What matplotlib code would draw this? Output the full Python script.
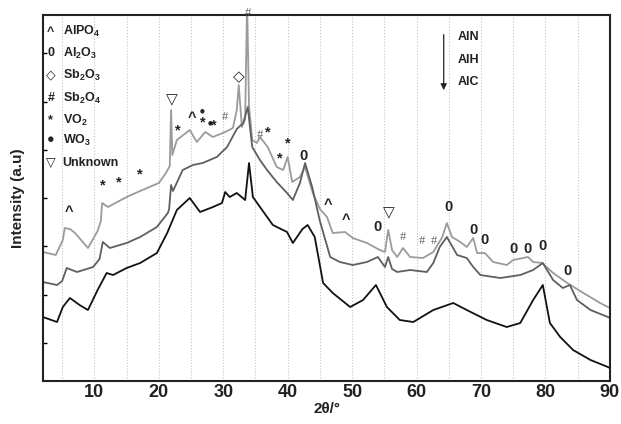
import numpy as np
import matplotlib
matplotlib.use('Agg')
import matplotlib.pyplot as plt

plt.rcParams['font.family'] = ['Liberation Sans', 'DejaVu Sans']
plt.rcParams['mathtext.fontset'] = 'custom'
plt.rcParams['mathtext.rm'] = 'Liberation Sans'
plt.rcParams['mathtext.bf'] = 'Liberation Sans:bold'

# 2theta (deg) and intensity (a.u., offset stacked)
aln_tt = [2.0, 4.0, 5.1, 5.4, 6.2, 7.0, 9.0, 10.5, 11.0, 11.2, 12.1, 15.0, 17.1, 20.0,
          21.1, 21.7, 21.9, 22.1, 22.8, 24.8, 25.9, 27.2, 28.4, 30.3, 31.5, 32.1, 32.4,
          32.9, 33.4, 33.7, 34.0, 34.5, 35.2, 35.7, 36.9, 38.3, 39.3, 40.0, 40.7, 41.9,
          42.7, 43.9, 45.0, 46.1, 47.0, 48.9, 50.1, 52.3, 54.3, 55.1, 55.6, 56.2, 57.0,
          57.9, 59.0, 61.0, 62.6, 64.0, 64.7, 65.5, 66.8, 67.8, 68.8, 69.4, 70.6, 71.9,
          74.0, 75.0, 77.3, 78.1, 79.5, 81.2, 83.4, 85.9, 88.5, 89.7, 90.0]
aln_int = [129, 126, 141, 153, 152, 148, 133, 150, 160, 178, 174, 184, 190, 198,
           208, 215, 271, 226, 241, 251, 239, 249, 244, 249, 253, 271, 296,
           254, 262, 380, 275, 241, 238, 244, 234, 214, 211, 224, 199, 204,
           214, 188, 172, 164, 148, 149, 143, 138, 131, 129, 151, 131, 124,
           133, 124, 123, 129, 144, 158, 144, 139, 134, 143, 128, 128, 119,
           116, 121, 124, 119, 118, 108, 98, 88, 78, 74, 73]

alh_tt = [2.0, 4.2, 5.0, 5.7, 7.3, 9.8, 10.8, 11.3, 12.4, 15.0, 17.1, 19.7, 21.4, 21.6,
          21.9, 22.2, 23.7, 25.3, 26.8, 29.0, 30.6, 32.1, 33.1, 33.8, 34.5, 35.7, 36.8,
          38.3, 39.9, 40.8, 41.9, 42.7, 43.8, 45.0, 46.6, 48.1, 50.1, 52.3, 54.0, 55.1,
          55.6, 56.2, 57.0, 59.0, 61.6, 62.6, 63.6, 64.7, 66.3, 67.8, 68.8, 69.9, 73.0,
          76.1, 78.1, 79.6, 81.2, 82.7, 83.8, 84.9, 87.0, 89.7, 90.0]
alh_int = [99, 96, 100, 113, 109, 114, 122, 139, 133, 138, 144, 154, 168, 172,
           196, 190, 211, 216, 218, 224, 234, 252, 258, 274, 234, 221, 211,
           199, 188, 181, 198, 218, 194, 160, 124, 119, 116, 119, 124, 114,
           124, 112, 109, 111, 109, 118, 134, 144, 126, 123, 114, 106, 103,
           106, 111, 118, 101, 93, 96, 81, 71, 64, 63]

alc_tt = [2.0, 4.2, 5.1, 6.2, 7.7, 9.0, 10.5, 11.9, 12.9, 15.0, 17.1, 19.7, 21.3, 22.8,
          24.8, 26.4, 28.4, 29.8, 30.3, 31.0, 32.1, 33.4, 34.0, 34.6, 35.7, 37.7, 39.9,
          40.8, 42.3, 43.1, 44.2, 45.5, 47.0, 49.7, 51.7, 53.7, 55.4, 57.4, 59.5, 62.6,
          65.7, 67.8, 70.9, 74.0, 76.1, 78.1, 79.6, 80.7, 82.3, 84.3, 87.0, 89.7, 90.0]
alc_int = [64, 59, 74, 83, 76, 71, 91, 108, 106, 113, 118, 128, 148, 171,
           183, 169, 174, 178, 189, 184, 188, 181, 218, 184, 174, 156, 149,
           138, 152, 156, 144, 98, 88, 74, 81, 96, 74, 61, 59, 71,
           78, 71, 61, 54, 58, 81, 96, 58, 44, 31, 21, 14, 13]

# phase markers above the peaks
peak_sym = ['^', '*', '*', '*', '▽', '*', '^', '*', '*', '#', '◇', '#', '#', '*', '*', '*',
            '0', '^', '^', '0', '▽', '#', '#', '#', '0', '0', '0', '0', '0', '0', '0']
peak_x = [6.0, 11.3, 13.8, 17.1, 22.0, 23.0, 25.1, 26.8, 28.6, 30.3, 32.4, 33.8, 35.7, 36.9,
          38.8, 40.0, 42.5, 46.3, 49.0, 53.9, 55.7, 57.9, 60.9, 62.7, 64.9, 68.8, 70.6,
          75.0, 77.3, 79.5, 83.4]
peak_y = [169, 196, 199, 207, 281, 251, 263, 259, 256, 264, 304, 368, 246, 249,
          223, 238, 225, 176, 161, 154, 168, 144, 140, 140, 174, 151, 141,
          132, 132, 135, 110]
dot_x = [26.7, 27.9]
dot_y = [270, 258]

legend_sym = ['^', '0', '◇', '#', '*', '●', '▽']
legend_lab = [r'$\mathbf{AlPO_4}$', r'$\mathbf{Al_2O_3}$', r'$\mathbf{Sb_2O_3}$',
              r'$\mathbf{Sb_2O_4}$', r'$\mathbf{VO_2}$', r'$\mathbf{WO_3}$', 'Unknown']
samples = ['AlN', 'AlH', 'AlC']

fig = plt.figure(figsize=(6.21, 4.24), dpi=100)
ax = fig.add_axes([0.069, 0.1014, 0.913, 0.8632])

ax.plot(aln_tt, aln_int, color='#9b9b9b', lw=1.3)
ax.plot(alh_tt, alh_int, color='#5f5f5f', lw=1.3)
ax.plot(alc_tt, alc_int, color='#111111', lw=1.3)

ax.set_xlim(2, 90)
ax.set_ylim(0, 366)
ax.set_xticks(np.arange(10, 91, 10))
ax.set_xticks(np.arange(5, 90, 10), minor=True)
ax.grid(True, axis='x', which='both', ls=':', color='#c4c4c4', lw=0.8)
ax.set_yticks(38 + 48.3 * np.arange(7))
ax.set_yticklabels([])
ax.tick_params(axis='x', which='both', length=0, pad=2, labelsize=13)
ax.tick_params(axis='y', direction='in', length=3, width=1)
for lab in ax.get_xticklabels():
    lab.set_fontweight('bold')
    lab.set_color('#222222')
for sp in ax.spines.values():
    sp.set_linewidth(1.5)
    sp.set_color('#222222')

for s, x, y in zip(peak_sym, peak_x, peak_y):
    if s == '#':
        ax.text(x, y, s, ha='center', va='center', fontsize=9, color='#666666',
                family=['Liberation Serif', 'DejaVu Serif'], clip_on=False)
    elif s in ('▽', '◇'):
        ax.text(x, y, s, ha='center', va='center', fontsize=11, color='#222222',
                family=['DejaVu Sans'])
    else:
        ax.text(x, y, s, ha='center', va='center', fontsize=10.5, color='#222222',
                fontweight='bold')
for x, y in zip(dot_x, dot_y):
    ax.text(x, y, '●', ha='center', va='center', fontsize=4, color='#222222',
            family=['DejaVu Sans'])

# phase key, top left
key_y = [0.954, 0.896, 0.836, 0.773, 0.713, 0.658, 0.596]
for s, lab, y in zip(legend_sym, legend_lab, key_y):
    ax.text(0.014, y, s, transform=ax.transAxes, ha='center', va='center',
            fontsize=9, fontweight='bold', color='#222222')
    ax.text(0.035, y, lab, transform=ax.transAxes, ha='left', va='center',
            fontsize=9, fontweight='bold', color='#222222')

# sample order, top right
ax.annotate('', xy=(0.707, 0.787), xytext=(0.707, 0.954), xycoords='axes fraction',
            arrowprops=dict(arrowstyle='-|>', color='#222222', lw=0.9, mutation_scale=9))
for lab, y in zip(samples, [0.940, 0.877, 0.817]):
    ax.text(0.732, y, lab, transform=ax.transAxes, ha='left', va='center',
            fontsize=9, fontweight='bold', color='#222222')

fig.text(0.029, 0.533, 'Intensity (a.u)', rotation=90, ha='center', va='center',
         fontsize=11, fontweight='bold', color='#222222')
fig.text(0.526, 0.035, '2θ/°', ha='center', va='center', fontsize=11,
         fontweight='bold', color='#222222')

fig.savefig('out.png', dpi=100)
